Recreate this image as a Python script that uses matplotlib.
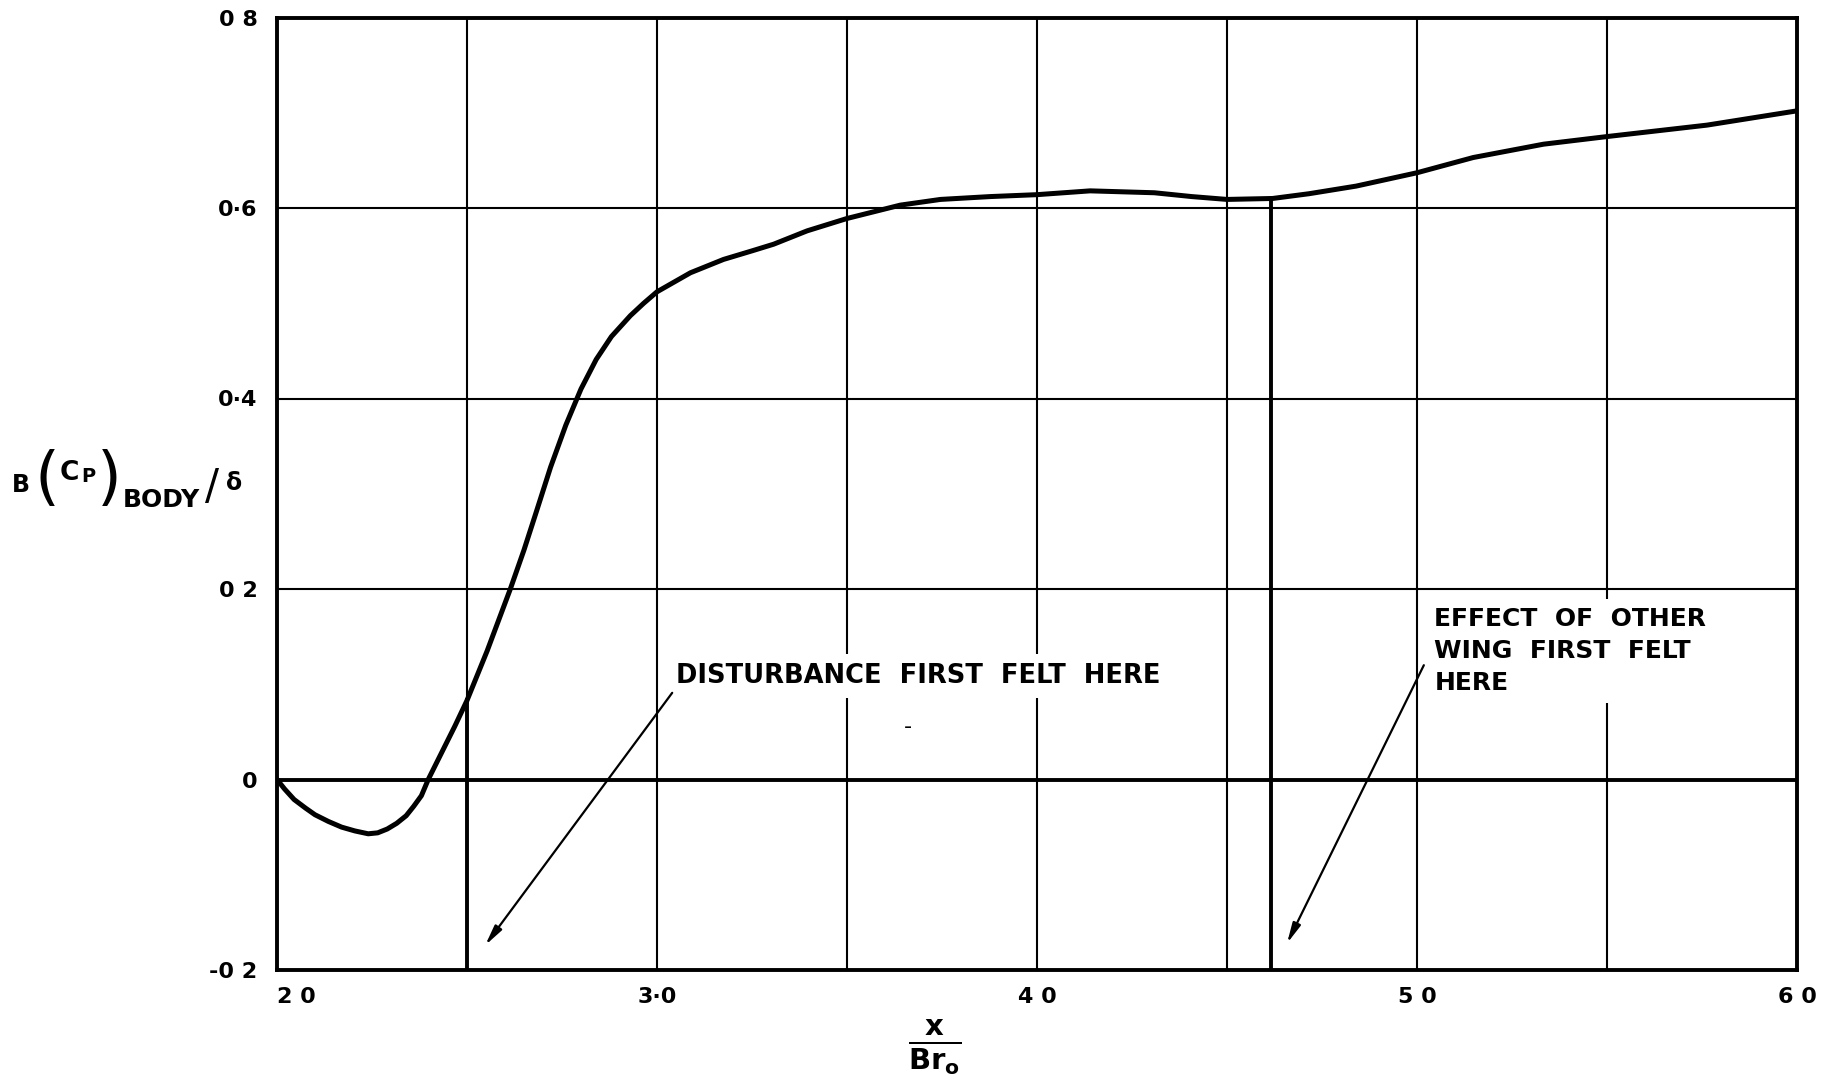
import matplotlib
matplotlib.use("Agg")
import matplotlib.pyplot as plt
import numpy as np

# curve
x_ratio = [2.00, 2.02, 2.045, 2.075, 2.10, 2.135, 2.17, 2.205, 2.24, 2.265, 2.29,
           2.315, 2.34, 2.36, 2.38, 2.398, 2.433, 2.468, 2.50, 2.553, 2.614,
           2.65, 2.684, 2.72, 2.76, 2.80, 2.84, 2.88, 2.93, 2.965, 3.00, 3.088,
           3.175, 3.25, 3.307, 3.395, 3.50, 3.64, 3.746, 3.877, 4.00, 4.14,
           4.309, 4.407, 4.50, 4.62, 4.716, 4.84, 5.00, 5.148, 5.333, 5.50,
           5.763, 6.00]
cp_body = [0.000, -0.010, -0.021, -0.030, -0.037, -0.044, -0.050, -0.054, -0.057,
           -0.056, -0.052, -0.046, -0.038, -0.028, -0.017, 0.000, 0.028, 0.056,
           0.083, 0.135, 0.200, 0.241, 0.283, 0.328, 0.372, 0.410, 0.441, 0.465,
           0.487, 0.500, 0.512, 0.532, 0.546, 0.555, 0.562, 0.576, 0.589, 0.603,
           0.609, 0.612, 0.614, 0.618, 0.616, 0.612, 0.609, 0.610, 0.615, 0.623,
           0.637, 0.653, 0.667, 0.675, 0.687, 0.702]

x_ticks = [2.0, 3.0, 4.0, 5.0, 6.0]
x_tick_labels = ["2 0", "3·0", "4 0", "5 0", "6 0"]
x_grid = [2.5, 3.5, 4.5, 5.5]
y_ticks = [-0.2, 0.0, 0.2, 0.4, 0.6, 0.8]
y_tick_labels = ["-0 2", "0", "0 2", "0·4", "0·6", "0 8"]

# where the disturbances are first felt
felt_x = [2.5, 4.615]

plt.rcParams['font.family'] = ['DejaVu Sans']
plt.rcParams['mathtext.default'] = 'bf'

W, H = 1832, 1076
fig = plt.figure(figsize=(W / 100, H / 100), dpi=100)
ax = fig.add_axes([277 / W, 1 - 970 / H, 1520 / W, 952.5 / H])

ax.set_xlim(2.0, 6.0)
ax.set_ylim(-0.2, 0.8)

ax.set_xticks(x_ticks)
ax.set_xticklabels(x_tick_labels, fontsize=16, fontweight='bold')
ax.set_xticks(x_grid, minor=True)
ax.set_yticks(y_ticks)
ax.set_yticklabels(y_tick_labels, fontsize=16, fontweight='bold')
ax.tick_params(which='both', length=0)
ax.tick_params(axis='x', pad=12)
ax.tick_params(axis='y', pad=14)
ax.get_xticklabels()[0].set_horizontalalignment('left')

ax.grid(True, which='both', color='black', linewidth=1.5, zorder=1)
ax.set_axisbelow(True)
for s in ax.spines.values():
    s.set_linewidth(2.8)
    s.set_zorder(5)

ax.axhline(0, color='black', linewidth=2.8, zorder=2)

ax.plot(x_ratio, cp_body, color='black', linewidth=3.6,
        solid_joinstyle='round', solid_capstyle='round', zorder=4)

for fx in felt_x:
    top = np.interp(fx, x_ratio, cp_body)
    ax.plot([fx, fx], [-0.2, top], color='black', linewidth=2.8, zorder=4)

box = dict(facecolor='white', edgecolor='none', boxstyle='square,pad=0.35')
ax.text(3.05, 0.109, "DISTURBANCE  FIRST  FELT  HERE", fontsize=18.5,
        fontweight='bold', va='center', ha='left', bbox=box, zorder=3)
ax.text(5.046, 0.135, "EFFECT  OF  OTHER\nWING  FIRST  FELT\nHERE", fontsize=18,
        fontweight='bold', va='center', ha='left', linespacing=1.4,
        bbox=box, zorder=3)
ax.text(3.66, 0.055, "-", fontsize=16, ha='center', va='center')

arrow = dict(arrowstyle='-|>,head_length=1.2,head_width=0.25', color='black',
             linewidth=1.6, shrinkA=0, shrinkB=0)
ax.annotate("", xy=(2.548, -0.174), xytext=(3.04, 0.091), arrowprops=arrow, zorder=6)
ax.annotate("", xy=(4.658, -0.172), xytext=(5.018, 0.12), arrowprops=arrow, zorder=6)


def put(px, base, s, size, weight='bold'):
    # px: left edge, base: baseline, both in figure pixels from top-left
    fig.text(px / W, 1 - base / H, s, fontsize=size, fontweight=weight,
             ha='left', va='baseline')


# y label: B (C_P)_BODY / delta, built from pieces to get the tall brackets
put(12, 492, "B", 17)
put(34, 498, "(", 46, weight='normal')
put(60, 480, "C", 19)
put(81, 482, "P", 14)
put(97, 498, ")", 46, weight='normal')
put(123, 507, "BODY", 18)
put(205, 499, "/", 30, weight='normal')
put(226, 490, "δ", 17)

fig.text(935 / W, 1 - 1047 / H, r'$\frac{x}{Br_o}$',
         fontsize=30, ha='center', va='center')

fig.savefig('out.png', dpi=100)
plt.close(fig)
